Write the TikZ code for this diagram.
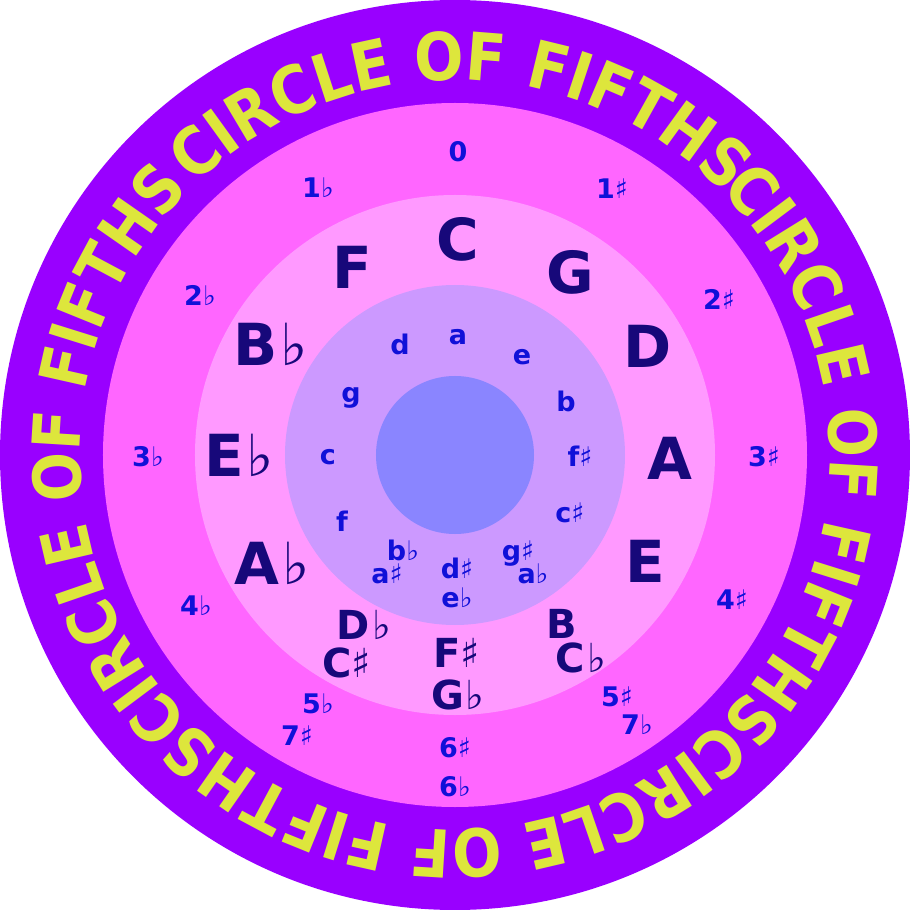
\documentclass[tikz,border=0pt]{standalone}
\usepackage{fontspec}
\setmainfont{DejaVu Sans}
\newfontfamily\symfont{DejaVu Sans}
\newfontfamily\ringfont{DejaVu Sans Bold}[FakeStretch=0.88]
\usetikzlibrary{decorations.text}
\definecolor{ringpurple}{HTML}{9900FF}
\definecolor{ringpink}{HTML}{FF66FF}
\definecolor{lightpink}{HTML}{FF99FF}
\definecolor{lavender}{HTML}{CC99FF}
\definecolor{coreblue}{HTML}{8A85FF}
\definecolor{ringyellow}{HTML}{DDE63C}
\definecolor{keynavy}{HTML}{17087A}
\definecolor{labelblue}{HTML}{1010D8}
\newcommand\myflat{{\mdseries\symfont ♭}}
\newcommand\mysharp{{\mdseries\symfont ♯}}
\newcommand\ringfmt{\ringfont\fontsize{66}{66}\selectfont\color{ringyellow}}
\begin{document}
\begin{tikzpicture}[x=1pt,y=1pt,
  bigkey/.style={text=keynavy, font=\bfseries\fontsize{58}{58}\selectfont, inner sep=0pt, text height=42pt, text depth=0pt},
  midkey/.style={text=keynavy, font=\bfseries\fontsize{40}{40}\selectfont, inner sep=0pt, text height=29pt, text depth=0pt},
  smalllab/.style={text=labelblue, font=\bfseries\fontsize{27}{27}\selectfont, inner sep=0pt, text height=20pt, text depth=0pt},
  minorlab/.style={text=labelblue, font=\bfseries\fontsize{27}{27}\selectfont, inner sep=0pt, text height=15pt, text depth=0pt}]
\useasboundingbox (-455,-455) rectangle (455,455);
\fill[white] (-455,-455) rectangle (455,455);
\fill[ringpurple] (0,0) circle[radius=455];
\fill[ringpink] (0,0) circle[radius=352];
\fill[lightpink] (0,0) circle[radius=260];
\fill[lavender] (0,0) circle[radius=170];
\fill[coreblue] (0,0) circle[radius=79];
% ring text
\foreach \s in {134,45,-45,-135} {
  \path[decorate, decoration={text along path, text={|\ringfmt|CIRCLE OF FIFTHS}, text align=left}]
    (\s:375) arc[start angle=\s, end angle=\s-100, radius=375];
}
% outer ring numbers
\node[smalllab] (n0)  at (3,303)     {0};
\node[smalllab] (f1)  at (-137,267)  {1\myflat};
\node[smalllab] (s1)  at (157,266)   {1\mysharp};
\node[smalllab] (f2)  at (-255,159)  {2\myflat};
\node[smalllab] (s2)  at (264,155)   {2\mysharp};
\node[smalllab] (f3)  at (-307,-2)   {3\myflat};
\node[smalllab] (s3)  at (309,-2)    {3\mysharp};
\node[smalllab] (f4)  at (-259,-150) {4\myflat};
\node[smalllab] (s4)  at (277,-144)  {4\mysharp};
\node[smalllab] (f5)  at (-137,-248) {5\myflat};
\node[smalllab] (s7)  at (-158,-280) {7\mysharp};
\node[smalllab] (s5)  at (162,-241)  {5\mysharp};
\node[smalllab] (f7)  at (182,-269)  {7\myflat};
\node[smalllab] (s6)  at (0,-292)    {6\mysharp};
\node[smalllab] (f6)  at (0,-331)    {6\myflat};
% major keys
\node[bigkey] (kC)  at (3,215)     {C};
\node[bigkey] (kF)  at (-103,187)  {F};
\node[bigkey] (kG)  at (115,182)   {G};
\node[bigkey] (kBb) at (-184,110)  {B\kern3pt\myflat};
\node[bigkey] (kD)  at (193,108)   {D};
\node[bigkey] (kEb) at (-216,0)    {E\kern3pt\myflat};
\node[bigkey] (kA)  at (215,-3)    {A};
\node[bigkey] (kAb) at (-183,-108) {A\kern3pt\myflat};
\node[bigkey] (kE)  at (190,-106)  {E};
\node[midkey] (kDb) at (-91,-170)  {D\kern2pt\myflat};
\node[midkey] (kCs) at (-108,-208) {C\mysharp};
\node[midkey] (kFs) at (2,-198)    {F\mysharp};
\node[midkey] (kGb) at (3,-240)    {G\kern2pt\myflat};
\node[midkey] (kB)  at (107,-169)  {B};
\node[midkey] (kCb) at (126,-203)  {C\kern2pt\myflat};
% minor keys
\node[minorlab] (ma)  at (3,118)    {a};
\node[minorlab] (md)  at (-55,108)  {d};
\node[minorlab] (me)  at (67,98)    {e};
\node[minorlab] (mg)  at (-104,60)  {g};
\node[minorlab] (mb)  at (111,51)   {b};
\node[minorlab] (mc)  at (-127,-2)  {c};
\node[minorlab] (mfs) at (125,-4)   {f\mysharp};
\node[minorlab] (mf)  at (-113,-69) {f};
\node[minorlab] (mcs) at (115,-60)  {c\mysharp};
\node[minorlab] (mbb) at (-52,-98)  {b\myflat};
\node[minorlab] (mas) at (-68,-121) {a\mysharp};
\node[minorlab] (mds) at (2,-116)   {d\mysharp};
\node[minorlab] (meb) at (2,-145)   {e\myflat};
\node[minorlab] (mgs) at (63,-98)   {g\mysharp};
\node[minorlab] (mab) at (78,-121)  {a\myflat};
\end{tikzpicture}
\end{document}
